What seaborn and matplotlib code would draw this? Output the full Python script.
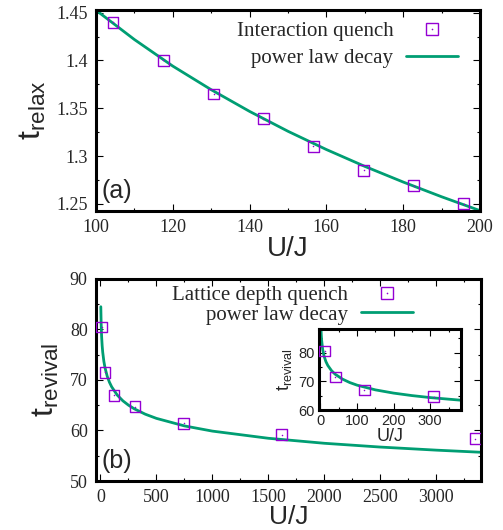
import numpy as np
import pandas as pd
import matplotlib
matplotlib.use("Agg")
import matplotlib.pyplot as plt
import seaborn as sns
from matplotlib.ticker import MultipleLocator, FormatStrFormatter
from matplotlib.lines import Line2D
from matplotlib.legend_handler import HandlerTuple

# ---------------- data ----------------
# panel (a): interaction quench
u_a = [104.4, 117.5, 130.6, 143.6, 156.6, 169.7, 182.7, 195.8]
t_relax = [1.440, 1.400, 1.365, 1.339, 1.310, 1.285, 1.269, 1.250]
# power-law fit curve as drawn
fit_a_x = [100, 110, 120, 130, 140, 150, 160, 170, 180, 190, 200]
fit_a_y = [1.4526, 1.4219, 1.3941, 1.3694, 1.3467, 1.3259, 1.3068, 1.2892, 1.2728, 1.2574, 1.2429]

# panel (b): lattice depth quench
u_b = [12, 41, 120, 309, 745, 1618, 3348]
t_revival = [80.5, 71.5, 67.0, 64.7, 61.4, 59.2, 58.4]
fit_b_x = [1.5, 2, 3, 6, 10, 15, 20, 30, 40, 60, 80, 100, 150, 200, 250, 300, 400,
           500, 750, 1000, 1500, 2000, 2500, 3000, 3400]
fit_b_y = [88.06, 86.57, 84.51, 81.11, 78.69, 76.82, 75.52, 73.73, 72.48, 70.76, 69.56,
           68.65, 67.01, 65.88, 65.02, 64.32, 63.23, 62.40, 60.91, 59.88, 58.46, 57.47,
           56.72, 56.11, 55.69]

label_pts_a = "Interaction quench"
label_pts_b = "Lattice depth quench"
label_fit = "power law decay"

# ---------------- style ----------------
sns.set_theme(style="ticks")
plt.rcParams["font.family"] = ["Liberation Serif", "DejaVu Serif"]
plt.rcParams["mathtext.fontset"] = "custom"
plt.rcParams["mathtext.rm"] = "Liberation Sans"
plt.rcParams["mathtext.it"] = "Liberation Sans"
plt.rcParams["mathtext.default"] = "rm"

PURPLE = "#9400d3"
GREEN = "#009e73"
SANS = ["Liberation Sans", "DejaVu Sans"]

df_a = pd.DataFrame({"U": u_a, "t": t_relax})
dfa_fit = pd.DataFrame({"U": fit_a_x, "t": fit_a_y})
df_b = pd.DataFrame({"U": u_b, "t": t_revival})
dfb_fit = pd.DataFrame({"U": fit_b_x, "t": fit_b_y})

fig = plt.figure(figsize=(5.03, 5.30), dpi=100)
ax1 = fig.add_axes([96/503, 1-211/530, 384/503, 201/530])
ax2 = fig.add_axes([96/503, 1-481/530, 385/503, 202/530])
ax3 = fig.add_axes([319/503, 1-410/530, 142/503, 81/530])


def draw(ax, dpts, dfit, ms, lw):
    sns.lineplot(data=dfit, x="U", y="t", ax=ax, color=GREEN, lw=lw, legend=False,
                 zorder=2)
    sns.scatterplot(data=dpts, x="U", y="t", ax=ax, marker="s", s=ms,
                    facecolor="none", edgecolor=PURPLE, linewidth=1.0, legend=False,
                    zorder=3)
    sns.scatterplot(data=dpts, x="U", y="t", ax=ax, marker="o", s=1.2,
                    color=PURPLE, linewidth=0, legend=False, zorder=3)


def frame(ax, lw=2.2):
    for sp in ax.spines.values():
        sp.set_linewidth(lw)
        sp.set_color("black")
    ax.tick_params(which="both", direction="in", top=True, right=True, color="black")
    ax.tick_params(which="major", length=5, width=0.8)
    ax.tick_params(which="minor", length=2.5, width=0.8)


draw(ax1, df_a, dfa_fit, 60, 2.0)
draw(ax2, df_b, dfb_fit[dfb_fit["U"] >= 3], 60, 2.0)
draw(ax3, df_b[df_b["U"] < 400], dfb_fit[dfb_fit["U"] <= 400], 60, 2.0)

# panel a axes
ax1.set_xlim(100, 200)
ax1.set_ylim(1.2425, 1.4528)
ax1.xaxis.set_major_locator(MultipleLocator(20))
ax1.xaxis.set_minor_locator(MultipleLocator(10))
ax1.yaxis.set_major_locator(MultipleLocator(0.05))
ax1.yaxis.set_minor_locator(MultipleLocator(0.025))
ax1.yaxis.set_major_formatter(FormatStrFormatter("%g"))
frame(ax1)
ax1.tick_params(labelsize=13, pad=6)
ax1.set_xlabel("U/J", family=SANS, fontsize=20, labelpad=0)
ax1.set_ylabel(r"$t_{relax}$", fontsize=23, labelpad=6)
ax1.text(0.015, 0.04, "(a)", transform=ax1.transAxes, family=SANS, fontsize=18,
         ha="left", va="bottom")

# panel b axes
ax2.set_xlim(-40, 3400)
ax2.set_ylim(50, 90)
ax2.xaxis.set_major_locator(MultipleLocator(500))
ax2.xaxis.set_minor_locator(MultipleLocator(250))
ax2.yaxis.set_major_locator(MultipleLocator(10))
ax2.yaxis.set_minor_locator(MultipleLocator(5))
frame(ax2)
ax2.tick_params(labelsize=13, pad=6)
ax2.set_xlabel("U/J", family=SANS, fontsize=19, labelpad=-1)
ax2.set_ylabel(r"$t_{revival}$", fontsize=23, labelpad=6)
ax2.text(0.015, 0.04, "(b)", transform=ax2.transAxes, family=SANS, fontsize=18,
         ha="left", va="bottom")

# inset axes
ax3.set_xlim(-4, 384)
ax3.set_ylim(60, 88.2)
ax3.xaxis.set_major_locator(MultipleLocator(100))
ax3.xaxis.set_minor_locator(MultipleLocator(50))
ax3.yaxis.set_major_locator(MultipleLocator(10))
ax3.yaxis.set_minor_locator(MultipleLocator(5))
frame(ax3, 2.2)
ax3.tick_params(labelsize=10.5, pad=3)
for lab in ax3.get_xticklabels() + ax3.get_yticklabels():
    lab.set_family(SANS)
ax3.set_xlabel("U/J", family=SANS, fontsize=13, labelpad=0)
ax3.set_ylabel(r"$t_{revival}$", fontsize=13, labelpad=3)
ax3.set_facecolor("white")

# legends
def leg_handles():
    sq = Line2D([], [], marker="s", ls="none", mfc="none", mec=PURPLE, ms=8, mew=1.0)
    dot = Line2D([], [], marker="o", ls="none", color=PURPLE, ms=1.2, mew=0)
    ln = Line2D([], [], color=GREEN, lw=2.0)
    return (sq, dot), ln

h1, l1 = leg_handles()
ax1.legend([h1, l1], [label_pts_a, label_fit], loc="upper right",
           bbox_to_anchor=(0.975, 1.005), frameon=False, markerfirst=False,
           fontsize=15, handlelength=2.5, handletextpad=0.6, labelspacing=0.35,
           borderaxespad=0.2, handler_map={tuple: HandlerTuple(ndivide=1, pad=0)})

h2, l2 = leg_handles()
ax2.legend([h2, l2], [label_pts_b, label_fit], loc="upper right",
           bbox_to_anchor=(0.85, 1.02), frameon=False, markerfirst=False,
           fontsize=15, handlelength=2.5, handletextpad=0.6, labelspacing=0.0,
           borderaxespad=0.1, handler_map={tuple: HandlerTuple(ndivide=1, pad=0)})

fig.savefig("out.png", dpi=100)
